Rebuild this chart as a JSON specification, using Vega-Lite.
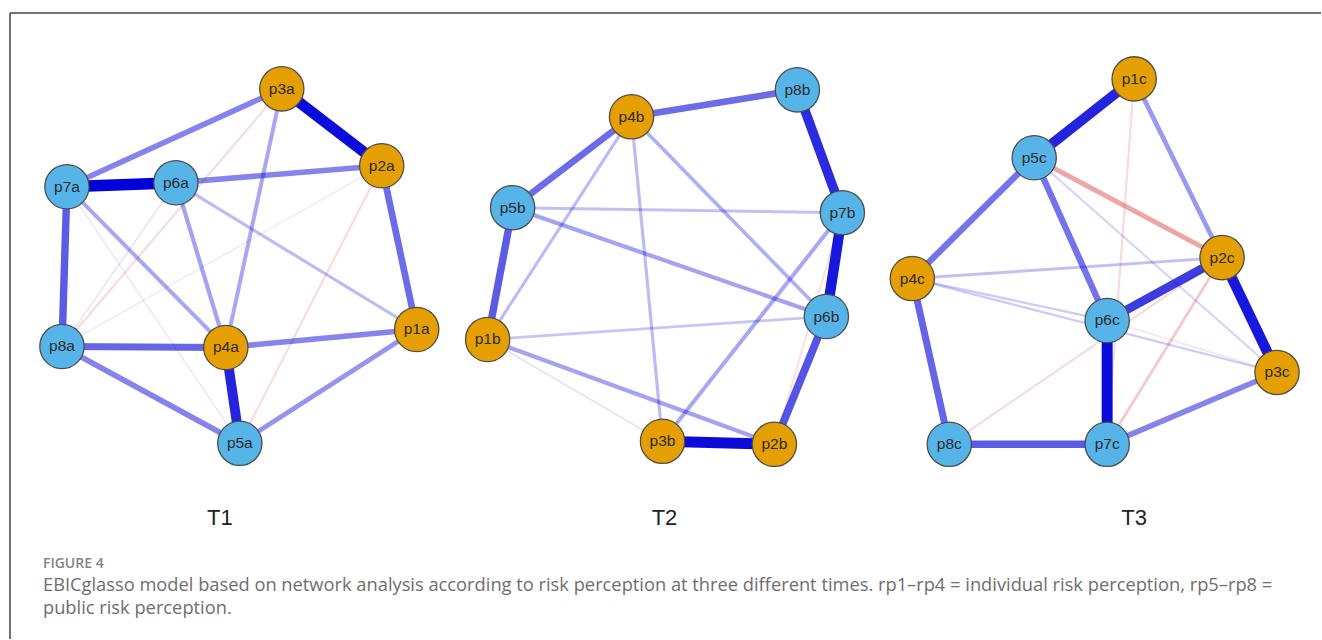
{
  "$schema": "https://vega.github.io/schema/vega-lite/v6.json",
  "width": 1322,
  "height": 640,
  "padding": 0,
  "autosize": {"type": "fit", "contains": "padding"},
  "background": "white",
  "config": {"view": {"stroke": null}},
  "datasets": {
    "nodes": [
      {"id": "p3a", "x": 282, "y": 89, "grp": "individual"},
      {"id": "p2a", "x": 382, "y": 166, "grp": "individual"},
      {"id": "p7a", "x": 67, "y": 187, "grp": "public"},
      {"id": "p6a", "x": 176, "y": 183, "grp": "public"},
      {"id": "p8a", "x": 62, "y": 347, "grp": "public"},
      {"id": "p4a", "x": 226, "y": 348, "grp": "individual"},
      {"id": "p1a", "x": 417, "y": 330, "grp": "individual"},
      {"id": "p5a", "x": 240, "y": 444, "grp": "public"},
      {"id": "p8b", "x": 798, "y": 90, "grp": "public"},
      {"id": "p4b", "x": 632, "y": 117, "grp": "individual"},
      {"id": "p5b", "x": 513, "y": 208, "grp": "public"},
      {"id": "p7b", "x": 843, "y": 213, "grp": "public"},
      {"id": "p6b", "x": 827, "y": 317, "grp": "public"},
      {"id": "p1b", "x": 488, "y": 340, "grp": "individual"},
      {"id": "p3b", "x": 663, "y": 442, "grp": "individual"},
      {"id": "p2b", "x": 775, "y": 445, "grp": "individual"},
      {"id": "p1c", "x": 1135, "y": 79, "grp": "individual"},
      {"id": "p5c", "x": 1035, "y": 158, "grp": "public"},
      {"id": "p2c", "x": 1223, "y": 258, "grp": "individual"},
      {"id": "p4c", "x": 913, "y": 279, "grp": "individual"},
      {"id": "p6c", "x": 1108, "y": 321, "grp": "public"},
      {"id": "p3c", "x": 1278, "y": 373, "grp": "individual"},
      {"id": "p8c", "x": 950, "y": 445, "grp": "public"},
      {"id": "p7c", "x": 1108, "y": 445, "grp": "public"}
    ],
    "edges": [
      {"s": "p3a", "t": "p2a", "w": 0.95, "sign": "pos"},
      {"s": "p7a", "t": "p6a", "w": 1.0, "sign": "pos"},
      {"s": "p7a", "t": "p3a", "w": 0.45, "sign": "pos"},
      {"s": "p6a", "t": "p2a", "w": 0.45, "sign": "pos"},
      {"s": "p7a", "t": "p8a", "w": 0.62, "sign": "pos"},
      {"s": "p8a", "t": "p4a", "w": 0.58, "sign": "pos"},
      {"s": "p4a", "t": "p5a", "w": 0.85, "sign": "pos"},
      {"s": "p8a", "t": "p5a", "w": 0.45, "sign": "pos"},
      {"s": "p4a", "t": "p1a", "w": 0.45, "sign": "pos"},
      {"s": "p5a", "t": "p1a", "w": 0.38, "sign": "pos"},
      {"s": "p2a", "t": "p1a", "w": 0.55, "sign": "pos"},
      {"s": "p3a", "t": "p4a", "w": 0.3, "sign": "pos"},
      {"s": "p6a", "t": "p4a", "w": 0.32, "sign": "pos"},
      {"s": "p7a", "t": "p4a", "w": 0.3, "sign": "pos"},
      {"s": "p6a", "t": "p1a", "w": 0.22, "sign": "pos"},
      {"s": "p3a", "t": "p8a", "w": 0.12, "sign": "neg"},
      {"s": "p2a", "t": "p5a", "w": 0.12, "sign": "neg"},
      {"s": "p7a", "t": "p5a", "w": 0.05, "sign": "pos"},
      {"s": "p6a", "t": "p8a", "w": 0.06, "sign": "pos"},
      {"s": "p8a", "t": "p2a", "w": 0.04, "sign": "pos"},
      {"s": "p8b", "t": "p4b", "w": 0.55, "sign": "pos"},
      {"s": "p8b", "t": "p7b", "w": 0.82, "sign": "pos"},
      {"s": "p7b", "t": "p6b", "w": 0.9, "sign": "pos"},
      {"s": "p6b", "t": "p2b", "w": 0.65, "sign": "pos"},
      {"s": "p2b", "t": "p3b", "w": 0.95, "sign": "pos"},
      {"s": "p4b", "t": "p5b", "w": 0.55, "sign": "pos"},
      {"s": "p5b", "t": "p1b", "w": 0.62, "sign": "pos"},
      {"s": "p5b", "t": "p7b", "w": 0.2, "sign": "pos"},
      {"s": "p5b", "t": "p6b", "w": 0.32, "sign": "pos"},
      {"s": "p4b", "t": "p1b", "w": 0.22, "sign": "pos"},
      {"s": "p4b", "t": "p3b", "w": 0.22, "sign": "pos"},
      {"s": "p4b", "t": "p6b", "w": 0.27, "sign": "pos"},
      {"s": "p7b", "t": "p3b", "w": 0.3, "sign": "pos"},
      {"s": "p1b", "t": "p6b", "w": 0.18, "sign": "pos"},
      {"s": "p1b", "t": "p2b", "w": 0.32, "sign": "pos"},
      {"s": "p1b", "t": "p3b", "w": 0.07, "sign": "pos"},
      {"s": "p7b", "t": "p2b", "w": 0.1, "sign": "neg"},
      {"s": "p1c", "t": "p5c", "w": 0.85, "sign": "pos"},
      {"s": "p1c", "t": "p2c", "w": 0.36, "sign": "pos"},
      {"s": "p1c", "t": "p7c", "w": 0.12, "sign": "neg"},
      {"s": "p5c", "t": "p2c", "w": 0.38, "sign": "neg"},
      {"s": "p5c", "t": "p4c", "w": 0.52, "sign": "pos"},
      {"s": "p5c", "t": "p6c", "w": 0.52, "sign": "pos"},
      {"s": "p5c", "t": "p3c", "w": 0.12, "sign": "pos"},
      {"s": "p2c", "t": "p4c", "w": 0.2, "sign": "pos"},
      {"s": "p2c", "t": "p6c", "w": 0.75, "sign": "pos"},
      {"s": "p2c", "t": "p3c", "w": 0.9, "sign": "pos"},
      {"s": "p2c", "t": "p7c", "w": 0.2, "sign": "neg"},
      {"s": "p2c", "t": "p8c", "w": 0.12, "sign": "neg"},
      {"s": "p4c", "t": "p6c", "w": 0.15, "sign": "pos"},
      {"s": "p4c", "t": "p3c", "w": 0.15, "sign": "pos"},
      {"s": "p4c", "t": "p8c", "w": 0.58, "sign": "pos"},
      {"s": "p6c", "t": "p7c", "w": 0.95, "sign": "pos"},
      {"s": "p6c", "t": "p3c", "w": 0.08, "sign": "neg"},
      {"s": "p8c", "t": "p7c", "w": 0.62, "sign": "pos"},
      {"s": "p7c", "t": "p3c", "w": 0.45, "sign": "pos"}
    ],
    "titles": [
      {"label": "T1", "x": 220, "y": 519},
      {"label": "T2", "x": 665, "y": 519},
      {"label": "T3", "x": 1135, "y": 519}
    ],
    "caption": [
      {"label": "EBICglasso model based on network analysis according to risk perception at three different times. rp1\u2013rp4 = individual risk perception, rp5\u2013rp8 =", "x": 43, "y": 587},
      {"label": "public risk perception.", "x": 43, "y": 610}
    ],
    "fig": [
      {"label": "FIGURE 4", "x": 43, "y": 565}
    ]
  },
  "layer": [
    {
      "data": {"values": [{}]},
      "mark": {"type": "rule", "color": "#444444", "strokeWidth": 1.5},
      "encoding": {
        "x": {"datum": 10, "type": "quantitative", "scale": {"domain": [0, 1322], "nice": false, "zero": false}, "axis": null},
        "x2": {"datum": 1322},
        "y": {"datum": 13, "type": "quantitative", "scale": {"domain": [0, 640], "nice": false, "zero": false, "reverse": true}, "axis": null}
      }
    },
    {
      "data": {"values": [{}]},
      "mark": {"type": "rule", "color": "#444444", "strokeWidth": 1.5},
      "encoding": {
        "x": {"datum": 10, "type": "quantitative", "axis": null},
        "y": {"datum": 13, "type": "quantitative", "axis": null},
        "y2": {"datum": 640}
      }
    },
    {
      "data": {"name": "edges"},
      "transform": [
        {"lookup": "s", "from": {"data": {"name": "nodes"}, "key": "id", "fields": ["x", "y"]}, "as": ["xa", "ya"]},
        {"lookup": "t", "from": {"data": {"name": "nodes"}, "key": "id", "fields": ["x", "y"]}, "as": ["xb", "yb"]}
      ],
      "mark": {"type": "rule", "strokeCap": "butt"},
      "encoding": {
        "x": {"field": "xa", "type": "quantitative", "axis": null},
        "y": {"field": "ya", "type": "quantitative", "axis": null},
        "x2": {"field": "xb"},
        "y2": {"field": "yb"},
        "color": {"field": "sign", "type": "nominal", "scale": {"domain": ["pos", "neg"], "range": ["#0000D8", "#D42A2A"]}, "legend": null},
        "strokeWidth": {"field": "w", "type": "quantitative", "scale": {"domain": [0, 1], "range": [0.8, 11.5]}, "legend": null},
        "opacity": {"field": "w", "type": "quantitative", "scale": {"domain": [0, 1], "range": [0.06, 1]}, "legend": null},
        "order": {"field": "w", "type": "quantitative"}
      }
    },
    {
      "data": {"name": "nodes"},
      "mark": {"type": "point", "shape": "circle", "filled": true, "size": 1960, "stroke": "#4d4d4d", "strokeWidth": 1.3, "opacity": 1},
      "encoding": {
        "x": {"field": "x", "type": "quantitative", "axis": null},
        "y": {"field": "y", "type": "quantitative", "axis": null},
        "fill": {"field": "grp", "type": "nominal", "scale": {"domain": ["individual", "public"], "range": ["#E69F00", "#56B4E9"]}, "legend": null}
      }
    },
    {
      "data": {"name": "nodes"},
      "mark": {"type": "text", "font": "Liberation Sans", "fontSize": 15.5, "color": "#2b2b2b", "align": "center", "baseline": "middle"},
      "encoding": {
        "x": {"field": "x", "type": "quantitative", "axis": null},
        "y": {"field": "y", "type": "quantitative", "axis": null},
        "text": {"field": "id"}
      }
    },
    {
      "data": {"name": "titles"},
      "mark": {"type": "text", "font": "Liberation Sans", "fontSize": 22, "color": "#222222", "align": "center", "baseline": "middle"},
      "encoding": {
        "x": {"field": "x", "type": "quantitative", "axis": null},
        "y": {"field": "y", "type": "quantitative", "axis": null},
        "text": {"field": "label"}
      }
    },
    {
      "data": {"name": "fig"},
      "mark": {"type": "text", "font": "Open Sans", "fontSize": 14, "fontWeight": 600, "color": "#858585", "align": "left", "baseline": "middle"},
      "encoding": {
        "x": {"field": "x", "type": "quantitative", "axis": null},
        "y": {"field": "y", "type": "quantitative", "axis": null},
        "text": {"field": "label"}
      }
    },
    {
      "data": {"name": "caption"},
      "mark": {"type": "text", "font": "Open Sans", "fontSize": 18.3, "color": "#6e6e6e", "align": "left", "baseline": "middle"},
      "encoding": {
        "x": {"field": "x", "type": "quantitative", "axis": null},
        "y": {"field": "y", "type": "quantitative", "axis": null},
        "text": {"field": "label"}
      }
    }
  ]
}
